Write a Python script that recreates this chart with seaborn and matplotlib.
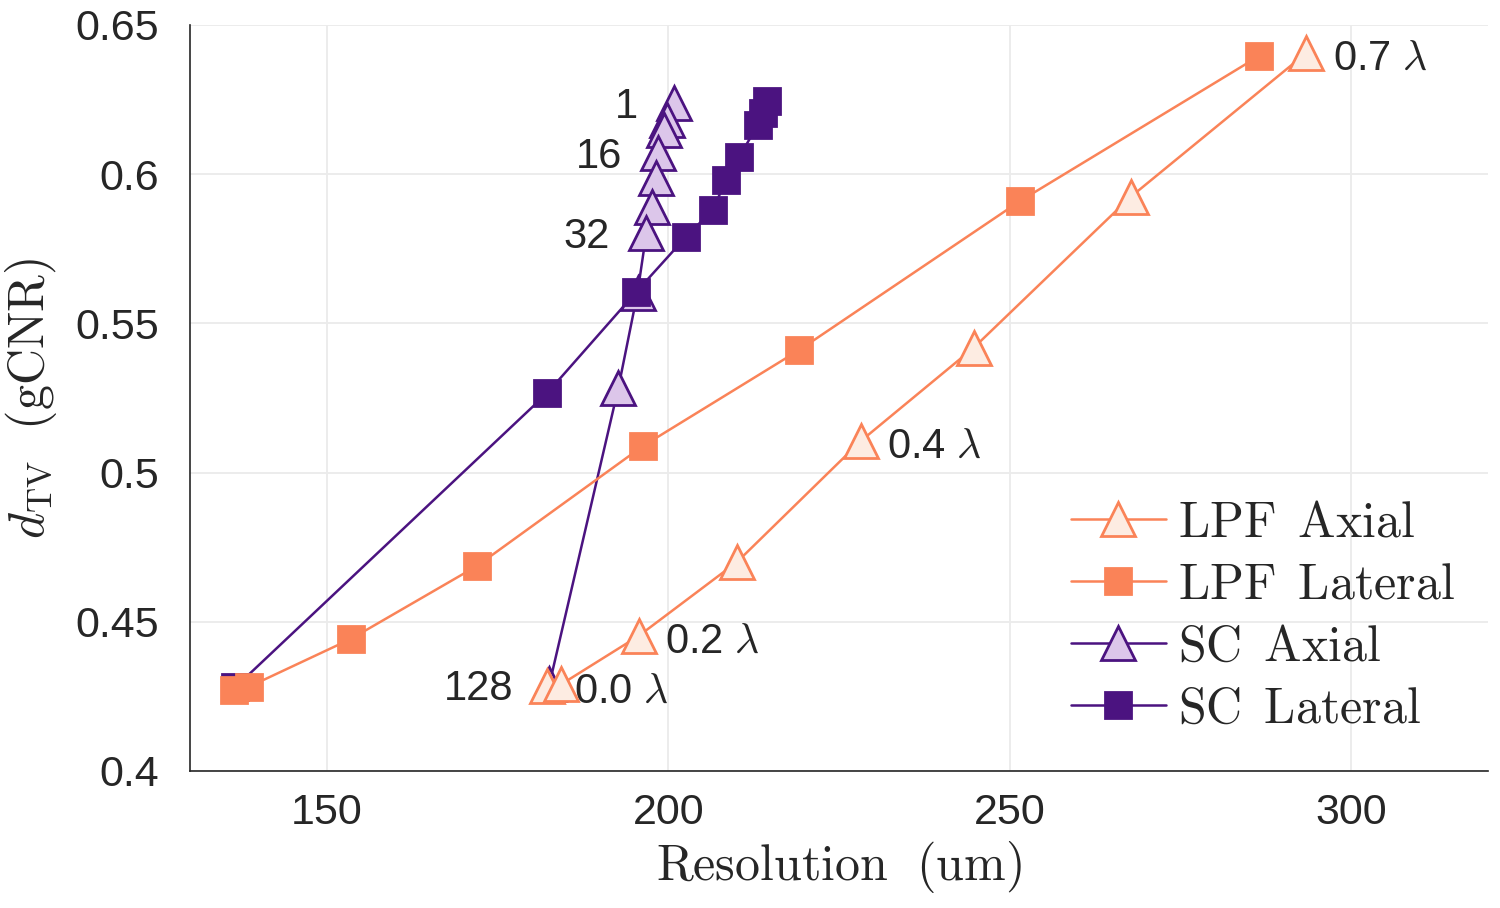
import numpy as np
import pandas as pd
import matplotlib
matplotlib.use('Agg')
import matplotlib.pyplot as plt
import seaborn as sns

# values
lpf_axial_res = [182.3, 184.3, 195.7, 210.1, 228.2, 244.7, 267.7, 293.4]
lpf_axial_dtv = [0.4285, 0.4290, 0.4453, 0.4701, 0.5106, 0.5418, 0.5924, 0.6406]
lpf_axial_lbl = ['0.0 $\\lambda$', '', '0.2 $\\lambda$', '', '0.4 $\\lambda$', '', '', '0.7 $\\lambda$']

lpf_lat_res = [136.4, 138.6, 153.5, 172.0, 196.3, 219.2, 251.5, 286.5]
lpf_lat_dtv = [0.4272, 0.4282, 0.4442, 0.4687, 0.5089, 0.5411, 0.5910, 0.6396]

sc_axial_res = [200.9, 199.85, 199.4, 198.5, 198.2, 197.65, 196.8, 195.5, 192.7, 182.6]
sc_axial_dtv = [0.6239, 0.6182, 0.6148, 0.6071, 0.5987, 0.5890, 0.5803, 0.5602, 0.5284, 0.4290]
sc_axial_lbl = ['1', '', '', '16', '', '', '32', '', '', '128']

sc_lat_res = [214.5, 213.9, 213.1, 210.4, 208.5, 206.5, 202.6, 195.3, 182.3, 136.6]
sc_lat_dtv = [0.6245, 0.6205, 0.6165, 0.6058, 0.5981, 0.5880, 0.5790, 0.5605, 0.5267, 0.4280]

orange = '#FA8358'
peach = '#FDECE2'
purple = '#4B1380'
lavender = '#DCC6EA'

sns.set_style('white')
plt.rcParams['font.family'] = ['Liberation Sans', 'DejaVu Sans']
plt.rcParams['mathtext.fontset'] = 'cm'

fig = plt.figure(figsize=(15, 9.08), dpi=100)
ax = fig.add_axes([0.1267, 0.1509, 0.8653, 0.8216])

def draw(xs, ys, label, marker, ms, face, edge, z):
    d = pd.DataFrame({'res': xs, 'dtv': ys})
    sns.lineplot(data=d, x='res', y='dtv', ax=ax, sort=False, estimator=None,
                 color=edge, lw=1.8, marker=marker, markersize=ms,
                 markerfacecolor=face, markeredgecolor=edge, markeredgewidth=2,
                 label=label, zorder=z)

draw(sc_axial_res, sc_axial_dtv, 'SC Axial', '^', 24, lavender, purple, 3)
draw(sc_lat_res, sc_lat_dtv, 'SC Lateral', 's', 18.5, purple, purple, 3)
draw(lpf_axial_res, lpf_axial_dtv, 'LPF Axial', '^', 24, peach, orange, 4)
draw(lpf_lat_res, lpf_lat_dtv, 'LPF Lateral', 's', 18.5, orange, orange, 4)

for x, y, t in zip(lpf_axial_res, lpf_axial_dtv, lpf_axial_lbl):
    if t:
        ax.annotate(t, (x, y), xytext=(19, -4), textcoords='offset points',
                    ha='left', va='center', fontsize=30)
for x, y, t in zip(sc_axial_res, sc_axial_dtv, sc_axial_lbl):
    if t:
        ax.annotate(t, (x, y), xytext=(-26, -3), textcoords='offset points',
                    ha='right', va='center', fontsize=30)

ax.set_xlim(130, 320)
ax.set_ylim(0.4, 0.65)
ax.set_xticks([150, 200, 250, 300])
ax.set_yticks([0.4, 0.45, 0.5, 0.55, 0.6, 0.65])
ax.set_yticklabels(['0.4', '0.45', '0.5', '0.55', '0.6', '0.65'])
ax.tick_params(direction='in', length=9, width=1.2, color='#262626',
               labelsize=31, labelcolor='#262626')
ax.tick_params(axis='y', pad=22)
ax.tick_params(axis='x', pad=16)
ax.grid(True, color='#EBEBEB', lw=1.3)
for s in ['top', 'right']:
    ax.spines[s].set_visible(False)
for s in ['left', 'bottom']:
    ax.spines[s].set_color('#262626')
    ax.spines[s].set_linewidth(1.2)

ax.set_xlabel(r'$\mathrm{Resolution\ \ (um)}$', fontsize=36, color='#262626', labelpad=4)
ax.set_ylabel(r'$d_{\mathrm{TV}}\ \ (\mathrm{gCNR})$', fontsize=36, color='#262626', labelpad=12)

h, l = ax.get_legend_handles_labels()
order = [2, 3, 0, 1]
leg = ax.legend([h[i] for i in order],
                [r'$\mathrm{LPF\ \,Axial}$', r'$\mathrm{LPF\ \,Lateral}$',
                 r'$\mathrm{SC\ \,Axial}$', r'$\mathrm{SC\ \,Lateral}$'],
                loc='lower right', bbox_to_anchor=(0.99, 0.025), frameon=False,
                fontsize=36, handlelength=1.9, handletextpad=0.25,
                labelspacing=0.32, borderaxespad=0)

fig.savefig('out.png', dpi=100)
